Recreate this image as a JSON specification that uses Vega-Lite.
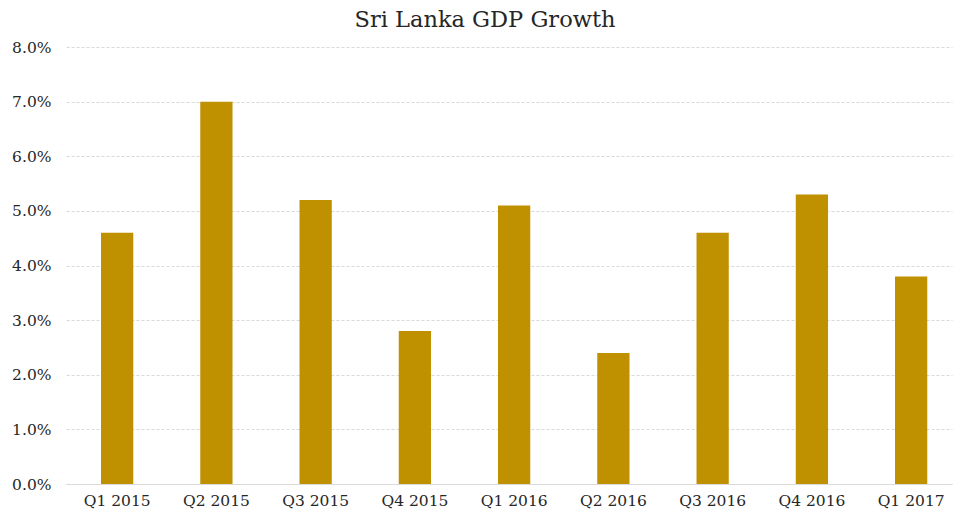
{
  "$schema": "https://vega.github.io/schema/vega-lite/v6.json",
  "width": 886,
  "height": 437,
  "autosize": {"type": "none"},
  "padding": {"left": 66, "top": 47, "right": 2, "bottom": 26},
  "background": "white",
  "title": {"text": "Sri Lanka GDP Growth", "font": "DejaVu Serif", "fontSize": 22.5, "fontWeight": "normal", "color": "#262626", "offset": 9, "dx": -24},
  "data": {"values": [
    {"q": "Q1 2015", "g": 0.046},
    {"q": "Q2 2015", "g": 0.070},
    {"q": "Q3 2015", "g": 0.052},
    {"q": "Q4 2015", "g": 0.028},
    {"q": "Q1 2016", "g": 0.051},
    {"q": "Q2 2016", "g": 0.024},
    {"q": "Q3 2016", "g": 0.046},
    {"q": "Q4 2016", "g": 0.053},
    {"q": "Q1 2017", "g": 0.038}
  ]},
  "mark": {"type": "bar", "color": "#BF9000"},
  "encoding": {
    "x": {"field": "q", "type": "nominal", "sort": null, "title": null,
      "scale": {"paddingInner": 0.675, "paddingOuter": 0.301, "align": 0.586},
      "axis": {"labelAngle": 0, "labelFont": "DejaVu Serif", "labelFontSize": 15.5, "labelColor": "#262626", "ticks": false, "labelPadding": 9, "domainColor": "#d9d9d9"}},
    "y": {"field": "g", "type": "quantitative", "title": null,
      "scale": {"domain": [0, 0.08]},
      "axis": {"format": ".1%", "values": [0,0.01,0.02,0.03,0.04,0.05,0.06,0.07,0.08], "labelOverlap": false, "labelFont": "DejaVu Serif", "labelFontSize": 15.5, "labelColor": "#262626", "ticks": false, "domain": false, "labelPadding": 15, "gridColor": "#d9d9d9", "gridDash": [3, 2]}}
  },
  "config": {"view": {"stroke": null}}
}
